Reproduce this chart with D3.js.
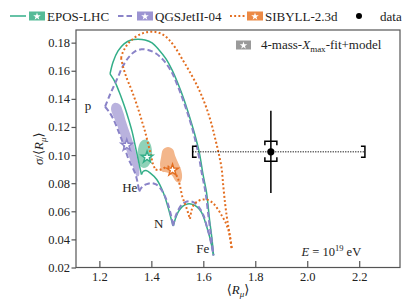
<!DOCTYPE html>
<html><head><meta charset="utf-8">
<script src="https://cdn.jsdelivr.net/npm/d3@7"></script>
<style>
body{margin:0;background:#fff}
svg{display:block}
svg text{font-family:'Liberation Serif','Times New Roman','DejaVu Serif',serif !important;fill:#222}
</style>
</head><body>
<svg id="chart" width="415" height="307"></svg>
<script>
// ---------------- data ----------------
const models = ["EPOS-LHC", "QGSJetII-04", "SIBYLL-2.3d"];
const xTicks = [1.2, 1.4, 1.6, 1.8, 2.0, 2.2];
const yTicks = [0.02, 0.04, 0.06, 0.08, 0.10, 0.12, 0.14, 0.16, 0.18];

// EPOS-LHC mixture lines [<R_mu>, sigma/<R_mu>]
const eposPFe = [[1.241,0.1578],[1.2527,0.1663],[1.2719,0.1741],[1.295,0.1791],[1.3219,0.1819],[1.3488,0.1824],[1.3758,0.1819],[1.4027,0.1798],[1.4296,0.1748],[1.4565,0.1684],[1.4796,0.1606],[1.5027,0.1507],[1.5258,0.1394],[1.5469,0.1273],[1.5662,0.1153],[1.5854,0.1011],[1.5988,0.0862],[1.6123,0.0734],[1.6238,0.0543],[1.6335,0.0401],[1.6392,0.0287]];
const eposPHe = [[1.241,0.1578],[1.260,0.1521],[1.276,0.1450],[1.289,0.1387],[1.301,0.1323],[1.314,0.1245],[1.326,0.1167],[1.337,0.1074],[1.347,0.0989],[1.355,0.0918],[1.362,0.0862]];
const eposHeN = [[1.362,0.0862],[1.3692,0.0885],[1.3796,0.0890],[1.395,0.0874],[1.4208,0.0826],[1.4462,0.0732],[1.4654,0.0621],[1.4785,0.0530],[1.4846,0.0495]];
const eposNFe = [[1.4846,0.0495],[1.4931,0.0550],[1.5046,0.0599],[1.52,0.0635],[1.5392,0.0652],[1.5585,0.0649],[1.5758,0.0631],[1.5931,0.0592],[1.6123,0.0496],[1.6277,0.0394],[1.6392,0.0287]];

// QGSJetII-04 mixture lines
const qgsPFe = [[1.2219,0.1344],[1.2373,0.1415],[1.2527,0.1479],[1.2719,0.1557],[1.2912,0.1635],[1.3142,0.1699],[1.3373,0.1738],[1.3623,0.1753],[1.3873,0.1748],[1.4181,0.1723],[1.4488,0.1670],[1.4777,0.1592],[1.5027,0.1486],[1.5258,0.1372],[1.545,0.1266],[1.5642,0.1142],[1.5815,0.1004],[1.595,0.0862],[1.6085,0.0734],[1.6212,0.0543],[1.6315,0.0401],[1.6392,0.0287]];
const qgsPHe = [[1.2219,0.1344],[1.237,0.1309],[1.253,0.1259],[1.268,0.1195],[1.283,0.1124],[1.297,0.1053],[1.310,0.0982],[1.326,0.0918],[1.339,0.0862],[1.347,0.0805],[1.353,0.0741]];
const qgsHeN = [[1.353,0.0741],[1.3642,0.0773],[1.3796,0.0791],[1.3988,0.0801],[1.4181,0.0791],[1.4354,0.0762],[1.4508,0.0713],[1.4642,0.0649],[1.4758,0.0571],[1.4835,0.0495]];
const qgsNFe = [[1.4835,0.0495],[1.4931,0.0564],[1.5046,0.0613],[1.52,0.0652],[1.5373,0.0670],[1.5546,0.0670],[1.5719,0.0652],[1.5873,0.0617],[1.6008,0.0571],[1.6123,0.0500],[1.6258,0.0408],[1.6392,0.0287]];

// SIBYLL-2.3d mixture lines
const sibPFe = [[1.2835,0.1691],[1.2892,0.1727],[1.2988,0.1762],[1.3104,0.1794],[1.3246,0.1819],[1.3488,0.1852],[1.3758,0.1872],[1.4065,0.1878],[1.4400,0.1862],[1.4654,0.1826],[1.4912,0.1766],[1.5231,0.1670],[1.5488,0.1589],[1.5746,0.1500],[1.5938,0.1422],[1.6131,0.1330],[1.6323,0.1216],[1.6450,0.1122],[1.6577,0.1025],[1.6700,0.0909],[1.6769,0.0779],[1.6835,0.0661],[1.6900,0.0566],[1.6962,0.0493],[1.7027,0.0422],[1.7092,0.0337]];
const sibPHe = [[1.2835,0.1691],[1.2912,0.1628],[1.3046,0.1550],[1.3219,0.1472],[1.3373,0.1394],[1.3527,0.1309],[1.3642,0.1238],[1.3758,0.1167],[1.3873,0.1082],[1.3988,0.0997],[1.4065,0.0933],[1.4162,0.0897]];
const sibHeN = [[1.4162,0.0897],[1.4296,0.0894],[1.445,0.0904],[1.4642,0.0918],[1.4835,0.0890],[1.4969,0.0855],[1.5038,0.0826],[1.5104,0.0779],[1.52,0.0699],[1.5296,0.0652],[1.5373,0.0613],[1.5431,0.0578],[1.5488,0.0546]];
const sibNFe = [[1.5488,0.0546],[1.5546,0.0606],[1.5642,0.0649],[1.5815,0.0674],[1.5999,0.0684],[1.6181,0.0681],[1.6385,0.0656],[1.6565,0.0613],[1.6719,0.0567],[1.6854,0.0521],[1.6962,0.0468],[1.7027,0.0413],[1.7092,0.0337]];

// 4-mass-Xmax-fit+model contours
const eposFit = [[1.3758,0.1110],[1.3912,0.1096],[1.4008,0.1053],[1.4027,0.0996],[1.3969,0.0947],[1.3835,0.0915],[1.3642,0.0911],[1.3508,0.0947],[1.3469,0.1004],[1.3508,0.1060],[1.3604,0.1096]];
const qgsFit = [[1.2604,0.1372],[1.2796,0.1358],[1.2912,0.1309],[1.3027,0.1238],[1.3181,0.1153],[1.3335,0.1068],[1.3450,0.0982],[1.3527,0.0911],[1.3527,0.0855],[1.3450,0.0848],[1.3335,0.0897],[1.3181,0.0968],[1.3027,0.1039],[1.2873,0.1110],[1.2719,0.1195],[1.2565,0.1266],[1.2450,0.1323],[1.2488,0.1358]];
const sibFit = [[1.445,0.1039],[1.4642,0.1057],[1.4835,0.1039],[1.4912,0.0997],[1.5027,0.0947],[1.5142,0.0897],[1.5181,0.0840],[1.5104,0.0805],[1.4950,0.0812],[1.4796,0.0855],[1.4604,0.0876],[1.4412,0.0883],[1.4335,0.0926],[1.4373,0.0982]];
const fitBest = [[1.3835,0.0989],[1.3054,0.1074],[1.4815,0.0897]]; // EPOS, QGS, SIBYLL

// measurement
const dataPoint = [1.860, 0.1023];
const statErrY = 0.0293;
const sysX = [1.559, 2.222];
const sysY = [0.0956, 0.1098];

// ---------------- drawing ----------------
const FONT = "'Liberation Serif','Times New Roman','DejaVu Serif',serif";
const svg = d3.select("#chart").attr("font-family", FONT);
const L = 76, R = 400, T = 30, B = 267.5;
const xs = d3.scaleLinear().domain([1.11, 2.357]).range([L, R]);
const ys = d3.scaleLinear().domain([0.02, 0.189]).range([B, T]);

const lineC = ["#33ae88", "#8a83c8", "#e36d1f"];
const patchC = ["#55bb97", "#9c94d2", "#ec8a45"];
const blobC = ["#8fd2b8", "#b9b2de", "#f3b68b"];

const ln = d3.line().x(d => xs(d[0])).y(d => ys(d[1])).curve(d3.curveCatmullRom.alpha(0.5));
const closed = d3.line().x(d => xs(d[0])).y(d => ys(d[1])).curve(d3.curveCatmullRomClosed.alpha(0.5));

// blobs
[eposFit, qgsFit, sibFit].forEach((b, i) => {
  svg.append("path").attr("d", closed(b)).attr("fill", blobC[i]).attr("stroke", "none");
});

// mixture lines
const styles = [
  {w: 1.5, dash: null},
  {w: 2, dash: "5.5,3"},
  {w: 2, dash: "1.9,2.3"}
];
[[eposPFe, eposPHe, eposHeN, eposNFe],
 [qgsPFe, qgsPHe, qgsHeN, qgsNFe],
 [sibPFe, sibPHe, sibHeN, sibNFe]].forEach((segs, i) => {
  segs.forEach(s => {
    svg.append("path").attr("d", ln(s)).attr("fill", "none")
      .attr("stroke", lineC[i]).attr("stroke-width", styles[i].w)
      .attr("stroke-dasharray", styles[i].dash);
  });
});

// best fit stars
const star = d3.symbol().type(d3.symbolStar);
fitBest.forEach((p, i) => {
  svg.append("path").attr("d", star.size(42)())
    .attr("transform", `translate(${xs(p[0])},${ys(p[1]) + 0.5})`)
    .attr("fill", "#fff").attr("stroke", lineC[i]).attr("stroke-width", 1.4);
});

function txt(sel) { return sel.append("text").attr("font-family", FONT); }

// element labels
const lab = [["p", 1.144, 0.1323], ["He", 1.288, 0.0734], ["N", 1.410, 0.0479], ["Fe", 1.573, 0.0301]];
lab.forEach(l => {
  txt(svg).attr("x", xs(l[1])).attr("y", ys(l[2])).attr("font-size", 13).text(l[0]);
});

// data: systematic horizontal
const dx = xs(dataPoint[0]), dy = ys(dataPoint[1]);
svg.append("line").attr("x1", xs(sysX[0])).attr("x2", xs(sysX[1])).attr("y1", dy).attr("y2", dy)
  .attr("stroke", "#000").attr("stroke-width", 1).attr("stroke-dasharray", "1.2,1.3");
const bh = 5.5, bl = 4;
svg.append("path").attr("d", `M${xs(sysX[0]) + bl},${dy - bh}H${xs(sysX[0])}V${dy + bh}H${xs(sysX[0]) + bl}`)
  .attr("fill", "none").attr("stroke", "#000").attr("stroke-width", 1.5);
svg.append("path").attr("d", `M${xs(sysX[1]) - bl},${dy - bh}H${xs(sysX[1])}V${dy + bh}H${xs(sysX[1]) - bl}`)
  .attr("fill", "none").attr("stroke", "#000").attr("stroke-width", 1.5);
// vertical systematic brackets
const bw = 6;
svg.append("path").attr("d", `M${dx - bw},${ys(sysY[1]) + bl}V${ys(sysY[1])}H${dx + bw}V${ys(sysY[1]) + bl}`)
  .attr("fill", "none").attr("stroke", "#000").attr("stroke-width", 1.5);
svg.append("path").attr("d", `M${dx - bw},${ys(sysY[0]) - bl}V${ys(sysY[0])}H${dx + bw}V${ys(sysY[0]) - bl}`)
  .attr("fill", "none").attr("stroke", "#000").attr("stroke-width", 1.5);
// stat error
svg.append("line").attr("x1", dx).attr("x2", dx)
  .attr("y1", ys(dataPoint[1] + statErrY)).attr("y2", ys(dataPoint[1] - statErrY))
  .attr("stroke", "#000").attr("stroke-width", 1.5);
svg.append("circle").attr("cx", dx).attr("cy", dy).attr("r", 3.6).attr("fill", "#000");

// frame and axes
svg.append("rect").attr("x", L).attr("y", T).attr("width", R - L).attr("height", B - T)
  .attr("fill", "none").attr("stroke", "#555").attr("stroke-width", 1.2);

const yAx = svg.append("g").attr("transform", `translate(${L},0)`)
  .call(d3.axisLeft(ys).tickValues(yTicks).tickSize(4.5).tickPadding(1.5).tickFormat(d3.format(".2f")));
const xAx = svg.append("g").attr("transform", `translate(0,${B})`)
  .call(d3.axisBottom(xs).tickValues(xTicks).tickSize(-6.5).tickPadding(4.5).tickFormat(d3.format(".1f")));
[yAx, xAx].forEach(g => {
  g.attr("font-family", FONT);
  g.select(".domain").remove();
  g.selectAll(".tick line").attr("stroke", "#555").attr("stroke-width", 1.2);
  g.selectAll(".tick text").attr("font-size", 12.5).attr("font-family", FONT).attr("fill", "#222");
});

// axis titles
const xt = txt(svg).attr("x", (L + R) / 2).attr("y", 294).attr("text-anchor", "middle").attr("font-size", 13);
xt.append("tspan").text("\u27E8");
xt.append("tspan").attr("font-style", "italic").text("R");
xt.append("tspan").attr("font-size", 9).attr("dy", 3).attr("font-style", "italic").text("\u03BC");
xt.append("tspan").attr("dy", -3).text("\u27E9");

const yt = txt(svg).attr("transform", `translate(43,${(T + B) / 2}) rotate(-90)`)
  .attr("text-anchor", "middle").attr("font-size", 13);
yt.append("tspan").attr("font-style", "italic").text("\u03C3");
yt.append("tspan").text("/\u27E8");
yt.append("tspan").attr("font-style", "italic").text("R");
yt.append("tspan").attr("font-size", 9).attr("dy", 3).attr("font-style", "italic").text("\u03BC");
yt.append("tspan").attr("dy", -3).text("\u27E9");

// energy text
const et = txt(svg).attr("x", 301.5).attr("y", 256).attr("font-size", 12.5);
et.append("tspan").attr("font-style", "italic").text("E");
et.append("tspan").text(" = 10");
et.append("tspan").attr("font-size", 8.5).attr("dy", -5).text("19");
et.append("tspan").attr("dy", 5).text(" eV");

// top legend
const legY = 16;
const legItems = [
  {lx: 10, px: 29, tx: 47},
  {lx: 118, px: 137, tx: 155},
  {lx: 230, px: 247, tx: 265}
];
models.forEach((m, i) => {
  const it = legItems[i];
  svg.append("line").attr("x1", it.lx).attr("x2", it.lx + 16).attr("y1", legY).attr("y2", legY)
    .attr("stroke", lineC[i]).attr("stroke-width", styles[i].w).attr("stroke-dasharray", styles[i].dash);
  svg.append("rect").attr("x", it.px).attr("y", legY - 4.5).attr("width", 16).attr("height", 9).attr("fill", patchC[i]);
  svg.append("path").attr("d", star.size(18)()).attr("transform", `translate(${it.px + 8},${legY + 0.5})`).attr("fill", "#fff");
  txt(svg).attr("x", it.tx).attr("y", legY + 4.5).attr("font-size", 13).text(m);
});
svg.append("circle").attr("cx", 359).attr("cy", legY).attr("r", 3).attr("fill", "#000");
txt(svg).attr("x", 380).attr("y", legY + 4.5).attr("font-size", 13).text("data");

// inner legend
svg.append("rect").attr("x", 236).attr("y", 40.5).attr("width", 15).attr("height", 9).attr("fill", "#9a9a9a");
svg.append("path").attr("d", star.size(18)()).attr("transform", `translate(243.5,45.5)`).attr("fill", "#fff");
const il = txt(svg).attr("x", 261).attr("y", 49).attr("font-size", 13);
il.append("tspan").text("4-mass-");
il.append("tspan").attr("font-style", "italic").text("X");
il.append("tspan").attr("font-size", 9).attr("dy", 3).text("max");
il.append("tspan").attr("dy", -3).text("-fit+model");
</script>
</body></html>
